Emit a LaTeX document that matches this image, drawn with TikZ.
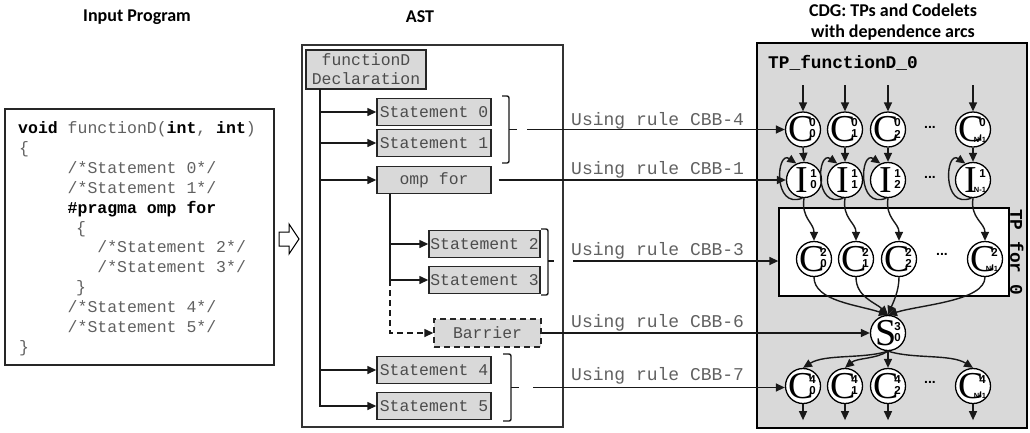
\documentclass[tikz,border=0pt]{standalone}
\usepackage{fontspec}
\setmainfont{Liberation Serif}
\setsansfont{Carlito}
\setmonofont{Liberation Mono}
\newfontfamily\idxfont{Liberation Sans}
\usetikzlibrary{arrows.meta,calc}

% codelet circle: name, x, y, letter, superscript, subscript
\newcommand{\cdlnode}[6]{%
  \node[cdl] (#1) at (#2,#3) {};
  \node[cdlL] (#1-l) at ([xshift=-2pt]#1.center) {#4};
  \node[cdlI] (#1-u) at ([xshift=9.5pt,yshift=6.5pt]#1.center) {#5};
  \node[cdlI] (#1-d) at ([xshift=9.5pt,yshift=-4.5pt]#1.center) {#6};
}
% same, with the subscript N-1
\newcommand{\cdlnodeN}[5]{%
  \node[cdl] (#1) at (#2,#3) {};
  \node[cdlL] (#1-l) at ([xshift=-2pt]#1.center) {#4};
  \node[cdlI] (#1-u) at ([xshift=9.5pt,yshift=6.5pt]#1.center) {#5};
  \node[cdlI, font=\idxfont\bfseries\fontsize{7.5}{7.5}\selectfont] (#1-d) at ([xshift=7pt,yshift=-10pt]#1.center) {N-1};
}

\begin{document}
\begin{tikzpicture}[x=1pt,y=-1pt,
  hdr/.style={font=\sffamily\bfseries\fontsize{18}{21}\selectfont, align=center, inner sep=0},
  codeln/.style={anchor=base west, inner sep=0, font=\ttfamily\fontsize{16.5}{16.5}\selectfont, text=black!62},
  astnode/.style={draw=black!85, line width=1.4pt, fill=gray!30, inner sep=0, minimum height=27pt,
    font=\ttfamily\fontsize{16.4}{19}\selectfont, text=black!70},
  rulelbl/.style={anchor=base west, inner sep=0, font=\ttfamily\fontsize{18}{18}\selectfont, text=black!62},
  lnk/.style={line width=1.4pt, black!90},
  arr/.style={lnk, -{Triangle[length=9pt,width=8pt]}},
  brk/.style={line width=1.4pt, black!90, rounded corners=2pt},
  cdl/.style={circle, draw, line width=1.3pt, fill=white, minimum size=35pt, inner sep=0},
  cdlL/.style={inner sep=0, font=\fontsize{38}{38}\selectfont},
  cdlI/.style={inner sep=0, font=\idxfont\bfseries\fontsize{11.5}{11.5}\selectfont},
  dotsep/.style={inner sep=0, font=\idxfont\bfseries\fontsize{14}{14}\selectfont},
  tpname/.style={inner sep=0, font=\ttfamily\bfseries\fontsize{17.8}{17.8}\selectfont},
  dashpat/.style={dash pattern=on 6pt off 4pt}
]
\useasboundingbox (0,0) rectangle (1030,432);

% headings
\node[hdr] (t1) at (137,17) {Input Program};
\node[hdr] (t2) at (420,17) {AST};
\node[hdr] (t3) at (893,22.5) {CDG: TPs and Codelets\\with dependence arcs};

% ---------- input program ----------
\draw[line width=1.8pt, black!85] (5,109) rectangle (274,365);
\node[codeln] (l0) at (18,133) {\textcolor{black}{\textbf{void}} functionD(\textcolor{black}{\textbf{int}}, \textcolor{black}{\textbf{int}})};
\node[codeln] (l1) at (19,153) {\{};
\node[codeln] (l2) at (67.5,173) {/*Statement 0*/};
\node[codeln] (l3) at (67.5,193) {/*Statement 1*/};
\node[codeln, text=black] (l4) at (67.5,213) {\textbf{\#pragma omp for}};
\node[codeln] (l5) at (76,233) {\{};
\node[codeln] (l6) at (97.2,252) {/*Statement 2*/};
\node[codeln] (l7) at (97.2,272) {/*Statement 3*/};
\node[codeln] (l8) at (76,292) {\}};
\node[codeln] (l9) at (67.5,312) {/*Statement 4*/};
\node[codeln] (l10) at (67.5,332) {/*Statement 5*/};
\node[codeln] (l11) at (19,352) {\}};

% hollow transformation arrow
\draw[line width=1pt, fill=white] (279,232) -- (289,232) -- (289,224) -- (299,239)
  -- (289,254) -- (289,246) -- (279,246) -- cycle;

% ---------- AST ----------
\draw[line width=1.3pt, black!80] (302,45) rectangle (563,427);
\node[astnode, minimum width=120pt, minimum height=39pt, align=center] (decl) at (366,69.5) {functionD\\Declaration};
\node[astnode, minimum width=114pt] (st0) at (434,112) {Statement 0};
\node[astnode, minimum width=114pt] (st1) at (434,143) {Statement 1};
\node[astnode, minimum width=114pt] (omp) at (434,180) {omp for};
\node[astnode, minimum width=111pt] (st2) at (484.5,244) {Statement 2};
\node[astnode, minimum width=111pt] (st3) at (484.5,280) {Statement 3};
\node[astnode, dashpat, minimum width=107pt, minimum height=28pt] (bar) at (487.5,333) {Barrier};
\node[astnode, minimum width=114pt] (st4) at (434,370) {Statement 4};
\node[astnode, minimum width=114pt] (st5) at (434,406) {Statement 5};

\coordinate (trunk) at (320,89);
\draw[arr] (trunk) |- (st5.west);
\foreach \n in {st0,st1,omp,st4} \draw[arr] (trunk |- \n.west) -- (\n.west);

\coordinate (sub) at ($(omp.south)+(-44,0)$);
\draw[arr] (sub) |- (st3.west);
\draw[arr] (sub |- st2.west) -- (st2.west);
\draw[arr, dashpat] (sub |- st3.west) |- (bar.west);

% brackets grouping statements
\draw[brk] (502,96) -- (509,96) -- (509,163) -- (502,163);
\draw[brk] (509,129.5) -- (517,129.5);
\draw[brk] (541,229) -- (548,229) -- (548,295) -- (541,295);
\draw[brk] (548,261) -- (554,261);
\draw[brk] (503,354) -- (511,354) -- (511,421) -- (503,421);
\draw[brk] (511,387.5) -- (519,387.5);

% ---------- CDG ----------
\draw[line width=1.3pt, fill=gray!30] (757,43) rectangle (1027,428);
\node[tpname, anchor=base west] (tpf) at (768,68) {TP\_functionD\_0};
\node[draw, line width=1.3pt, fill=white, minimum width=230pt, minimum height=88pt, inner sep=0] (tpfor) at (894,252) {};
\node[tpname, rotate=-90] (tpforlbl) at (1016,252) {TP\_for\_0};

\cdlnode{ca}{803}{129.5}{C}{0}{0}
\cdlnode{cb}{845}{129.5}{C}{0}{1}
\cdlnode{cc}{888}{129.5}{C}{0}{2}
\cdlnodeN{cd}{973}{129.5}{C}{0}
\node[dotsep] (dc) at (930,127) {...};

\cdlnode{ia}{804}{180}{I}{1}{0}
\cdlnode{ib}{845}{180}{I}{1}{1}
\cdlnode{ic}{888}{180}{I}{1}{2}
\cdlnodeN{id}{973}{180}{I}{1}
\node[dotsep] (di) at (930,177) {...};

\cdlnode{ka}{814}{259}{C}{2}{0}
\cdlnode{kb}{856}{259}{C}{2}{1}
\cdlnode{kc}{899}{259}{C}{2}{2}
\cdlnodeN{kd}{985}{259}{C}{2}
\node[dotsep] (dk) at (942,254) {...};

\cdlnode{s}{888}{333}{S}{3}{0}

\cdlnode{ma}{803}{386}{C}{4}{0}
\cdlnode{mb}{845}{386}{C}{4}{1}
\cdlnode{mc}{888}{386}{C}{4}{2}
\cdlnodeN{md}{973}{386}{C}{4}
\node[dotsep] (dm) at (930,382) {...};

% dependence arcs
\foreach \c/\i/\k in {ca/ia/ka, cb/ib/kb, cc/ic/kc, cd/id/kd}{
  \draw[arr] ($(\c.north)+(0,-26)$) -- (\c.north);
  \draw[arr] (\c.south) -- (\i.north);
  \draw[arr] (\i.265) .. controls +(-30,12) and +(-20,-14) .. (\i.115);
  \draw[arr] (\i.south) .. controls +(-3,20) and +(0,-18) .. (\k.north);
}
\draw[arr] (ka.south) .. controls +(0,24) and +(-30,-10) .. (s.north);
\draw[arr] (kb.south) .. controls +(0,20) and +(-12,-12) .. (s.north);
\draw[arr] (kc.south) .. controls +(0,14) and +(5,-12) .. (s.north);
\draw[arr] (kd.south) .. controls +(0,24) and +(32,-10) .. (s.north);

\draw[arr] (s.south) .. controls +(-25,8) and +(22,-14) .. (ma.north);
\draw[arr] (s.south) .. controls +(-12,8) and +(12,-10) .. (mb.north);
\draw[arr] (s.south) -- (mc.north);
\draw[arr] (s.south) .. controls +(25,8) and +(-22,-14) .. (md.north);
\foreach \m in {ma,mb,mc,md} \draw[arr] (\m.south) -- +(0,16);

% ---------- translation rules ----------
\coordinate (r4) at (527,129.5);
\draw[arr] (r4) -- (r4 -| ca.west);
\node[rulelbl] (lb4) at (571,125) {Using rule CBB-4};

\coordinate (r1) at ($(omp.east)+(7,0)$);
\draw[arr] (r1) -- (r1 -| ia.west);
\node[rulelbl] (lb1) at (571,174) {Using rule CBB-1};

\coordinate (r3) at (573,261);
\draw[arr] (r3) -- (r3 -| tpfor.west);
\node[rulelbl] (lb3) at (571,255) {Using rule CBB-3};

\draw[arr] (bar.east) -- (bar.east -| s.west);
\node[rulelbl] (lb6) at (571,327) {Using rule CBB-6};

\coordinate (r7) at (533,387.5);
\draw[arr] (r7) -- (r7 -| ma.west);
\node[rulelbl] (lb7) at (571,380) {Using rule CBB-7};
\end{tikzpicture}
\end{document}
